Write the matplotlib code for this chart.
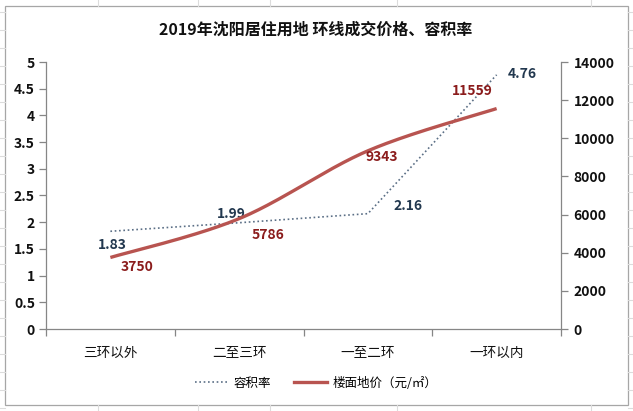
import numpy as np
import matplotlib
matplotlib.use("Agg")
import matplotlib.pyplot as plt
from matplotlib.lines import Line2D
from matplotlib.patches import Rectangle

plt.rcParams['font.family'] = ['Noto Sans CJK SC', 'DejaVu Sans']

title = "2019年沈阳居住用地 环线成交价格、容积率"
categories = ["三环以外", "二至三环", "一至二环", "一环以内"]
far_values = [1.83, 1.99, 2.16, 4.76]
price_values = [3750, 5786, 9343, 11559]
left_ticks = [0, 0.5, 1, 1.5, 2, 2.5, 3, 3.5, 4, 4.5, 5]
right_ticks = [0, 2000, 4000, 6000, 8000, 10000, 12000, 14000]
far_name = "容积率"
price_name = "楼面地价（元/㎡）"

W, H = 633, 411
fig = plt.figure(figsize=(W / 100, H / 100), dpi=100)
fig.patch.set_facecolor("white")

# spreadsheet background lines outside chart frame
grid_c = "#dcdcdc"
for xv in [98, 198, 270, 397, 591]:
    fig.add_artist(Line2D([xv / W, xv / W], [1, 1 - 6 / H], color=grid_c, lw=0.8))
    fig.add_artist(Line2D([xv / W, xv / W], [0, 1 - 405 / H], color=grid_c, lw=0.8))
for yv in range(12, 411, 18):
    fig.add_artist(Line2D([0, 5 / W], [1 - yv / H, 1 - yv / H], color=grid_c, lw=0.8))
    fig.add_artist(Line2D([628 / W, 1], [1 - yv / H, 1 - yv / H], color=grid_c, lw=0.8))
fig.add_artist(Rectangle((5 / W, 1 - 405 / H), 623 / W, 399 / H, transform=fig.transFigure,
                         facecolor="white", edgecolor="#a6a6a6", lw=0.9, zorder=0))

L, R, T, B = 46, 561, 62, 329
ax = fig.add_axes([L / W, 1 - B / H, (R - L) / W, (B - T) / H])
ax2 = ax.twinx()
ax.set_facecolor("none")

n = len(categories)
ax.set_xlim(-0.5, n - 0.5)
ax.set_ylim(0, 5)
ax2.set_ylim(0, 14000)


def smooth(xs, ys, steps=60):
    xs = np.asarray(xs, float)
    ys = np.asarray(ys, float)
    P = np.column_stack([xs, ys])
    Pe = np.vstack([P[0], P, P[-1]])
    out = []
    for i in range(len(P) - 1):
        p0, p1, p2, p3 = Pe[i], Pe[i + 1], Pe[i + 2], Pe[i + 3]
        c1 = p1 + (p2 - p0) / 6
        c2 = p2 - (p3 - p1) / 6
        t = np.linspace(0, 1, steps)[:, None]
        seg = ((1 - t) ** 3) * p1 + 3 * ((1 - t) ** 2) * t * c1 + 3 * (1 - t) * t ** 2 * c2 + t ** 3 * p2
        out.append(seg if i == 0 else seg[1:])
    out = np.vstack(out)
    return out[:, 0], out[:, 1]


xs = np.arange(n)
px, py = smooth(xs, price_values)

far_color = "#5b6f86"
price_color = "#b85450"
ax.plot(xs, far_values, color=far_color, lw=1.2, linestyle=(0, (1, 1.6)), zorder=3)
ax2.plot(px, py, color=price_color, lw=2.4, solid_capstyle="butt", zorder=3)

# axes styling
axis_c = "#868686"
for a in (ax, ax2):
    a.spines['top'].set_visible(False)
    for s in ('left', 'right', 'bottom'):
        a.spines[s].set_color(axis_c)
        a.spines[s].set_linewidth(0.9)
ax.spines['right'].set_visible(False)
ax2.spines['left'].set_visible(False)
ax2.spines['bottom'].set_visible(False)

ax.set_yticks(left_ticks)
ax.set_yticklabels([("%g" % v) for v in left_ticks], fontsize=10, fontweight="bold", color="#111111")
ax2.set_yticks(right_ticks)
ax2.set_yticklabels([str(v) for v in right_ticks], fontsize=10, fontweight="bold", color="#111111")
ax.tick_params(axis='y', length=5, width=0.9, color=axis_c, pad=3, direction='out')
ax2.tick_params(axis='y', length=5, width=0.9, color=axis_c, pad=4, direction='out')

ax.set_xticks(np.arange(-0.5, n, 1.0))
ax.set_xticklabels([""] * (n + 1))
ax.set_xticks(xs, minor=True)
ax.set_xticklabels(categories, minor=True, fontsize=9.8, color="#111111")
ax.tick_params(axis='x', which='major', length=5, width=0.9, color=axis_c, direction='out')
ax.tick_params(axis='x', which='minor', length=0, pad=12)

# data labels (pixel offsets)
far_off = [(2, -14), (-8, 9), (40, 8), (26, 1)]
price_off = [(27, -10), (29, -16), (14, -6), (-24, 18)]
lab_kw = dict(textcoords="offset pixels", ha="center", va="center", fontsize=10, fontweight="bold")
for i, v in enumerate(far_values):
    ax.annotate(f"{v:.2f}", xy=(i, v), xytext=far_off[i], color="#22384f", **lab_kw)
for i, v in enumerate(price_values):
    ax2.annotate(f"{v}", xy=(i, v), xytext=price_off[i], color="#8b1c1c", **lab_kw)

fig.text(316 / W, 1 - 30 / H, title, ha="center", va="center", fontsize=11.5, fontweight="bold", color="#111111")

h1 = Line2D([], [], color=far_color, lw=1.2, linestyle=(0, (1, 1.6)))
h2 = Line2D([], [], color=price_color, lw=2.4)
fig.legend([h1, h2], [far_name, price_name], loc="center", bbox_to_anchor=(316 / W, 1 - 383 / H),
           ncol=2, frameon=False, fontsize=9, handlelength=2.7, handletextpad=0.4, columnspacing=1.8)

fig.savefig("out.png", dpi=100)
